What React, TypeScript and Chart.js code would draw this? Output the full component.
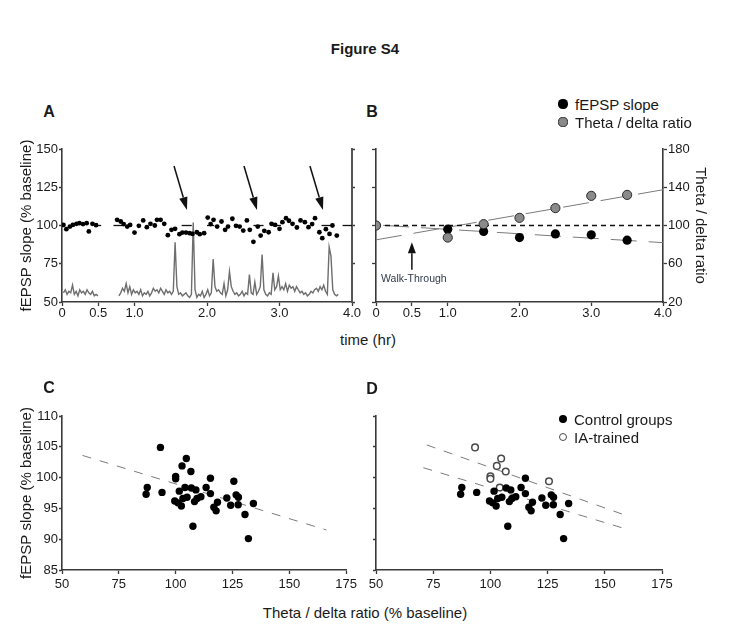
import React, { useEffect, useRef } from 'react';
import { Chart, registerables } from 'chart.js';

Chart.register(...registerables);

const FONT = '"Liberation Sans", Arial, Helvetica, sans-serif';
const AXIS = '#3a3a3a';
const TXT = '#1a1a1a';

// ---------- Panel A / B shared time axis ----------
const timeTicks = [0, 0.5, 1, 2, 3, 4];
const timeTickLabels = ['0', '0.5', '1.0', '2.0', '3.0', '4.0'];

// ---------- Panel A: fEPSP slope per time bin ----------
const fepspTimeA = [
  0.02, 0.06, 0.11, 0.15, 0.2, 0.24, 0.29, 0.34, 0.37, 0.42, 0.47,
  0.76, 0.81, 0.85, 0.9, 0.94, 1.0, 1.06, 1.12, 1.17, 1.22, 1.28, 1.31, 1.36, 1.41,
  1.46, 1.51, 1.56, 1.62, 1.66, 1.71, 1.76, 1.8, 1.86, 1.9, 1.96,
  2.01, 2.05, 2.09, 2.14, 2.2, 2.25, 2.29, 2.35, 2.4, 2.45, 2.5, 2.55, 2.59, 2.64,
  2.7, 2.74, 2.79, 2.85, 2.89, 2.94, 3.0, 3.04, 3.09, 3.13, 3.18, 3.24, 3.29, 3.35,
  3.4, 3.45, 3.49, 3.55, 3.59, 3.64, 3.69, 3.73, 3.79,
];
const fepspValA = [
  100.4, 97.6, 99.3, 100.4, 101.1, 101.5, 100.9, 101.5, 96.1, 101.1, 100.2,
  103.7, 102.6, 100.9, 99.3, 100.4, 95.4, 99.8, 103.3, 98.9, 101.1, 100.0, 103.7, 103.7, 101.1,
  93.7, 97.2, 97.8, 94.3, 95.4, 95.4, 95.0, 94.5, 95.6, 94.3, 95.0,
  105.2, 100.9, 103.7, 99.3, 102.6, 97.2, 99.3, 104.4, 99.8, 99.3, 96.7, 103.3, 97.2, 89.3,
  99.3, 93.4, 96.5, 95.6, 101.1, 100.4, 97.8, 102.2, 104.8, 103.1, 101.1, 98.7, 103.3, 102.2,
  98.9, 100.9, 104.8, 95.6, 91.7, 97.6, 94.5, 100.0, 93.4,
];

// ---------- Panel A: theta/delta trace (two recording segments) ----------
const thetaStepA = 0.025;
const thetaStart1A = 0.02;
const thetaVal1A = [56, 58, 55, 57, 56, 61, 55, 57, 54, 58, 56, 57, 55, 58, 56, 55, 57, 54, 55, 54];
const thetaStart2A = 0.785;
const thetaVal2A = [
  54, 56, 59, 57, 62, 56, 60, 55, 58, 56,
  57, 55, 58, 54, 56, 55, 57, 54, 56, 59, 57, 58, 56, 59, 57, 55, 58, 56, 57, 55,
  57, 89, 60,
  55, 56, 54, 55, 56, 54, 53, 55,
  102, 58,
  53, 55, 54, 57, 53, 55, 58, 54, 56,
  78, 60,
  57, 58, 56, 55, 62, 54, 58,
  70, 60,
  57, 55, 56, 54, 55, 57, 54, 56, 55,
  68, 56, 55, 63, 55, 57, 60, 81, 58,
  55, 54, 56, 55,
  69, 58, 60, 67, 58,
  60, 58, 62, 57, 61, 59, 60, 57, 60, 58, 56, 57, 55, 56, 54, 55, 57, 56, 58, 59, 57, 60,
  58, 61, 57, 55,
  86, 80, 58,
  55, 54, 55,
];
// visible pieces of the 100 % reference line in panel A (hr)
const refSegmentsA = [[0.48, 0.54], [0.71, 0.84], [1.65, 1.79], [2.0, 2.1], [2.64, 2.78], [2.9, 3.02], [3.58, 3.71], [3.87, 4.0]];
// arrows in panel A (time in hr, value in % baseline)
const arrowsA = [
  { t0: 1.545, v0: 138.9, t1: 1.724, v1: 110.1 },
  { t0: 2.51, v0: 138.9, t1: 2.69, v1: 110.1 },
  { t0: 3.42, v0: 138.9, t1: 3.6, v1: 110.1 },
];

// ---------- Panel B ----------
const timeB = [0, 1, 1.5, 2, 2.5, 3, 3.5];
const fepspB = [100, 97.6, 96.1, 92.1, 94.5, 93.9, 90.4];
const thetaB = [100, 87.4, 101.4, 108, 118.2, 131, 132];
const thetaTrendB = { x: [0, 4], y: [85, 137.4] };
const fepspTrendB = { x: [0.1, 4], y: [100.1, 88.8] };
const walkThrough = { t: 0.5, tail: 71, head: 89, textAt: 65, label: 'Walk-Through' };

// ---------- Panels C / D ----------
const controlX = [87.5, 87.0, 94.0, 101.6, 99.6, 101.0, 102.5, 103.2, 105.0, 106.9, 108.9, 107.6, 108.3, 109.4, 111.1, 113.4, 115.3, 115.3, 116.8, 117.8, 118.4, 122.5, 124.2, 126.6, 127.6, 127.5, 134.2, 130.5, 132.0];
const controlY = [98.4, 97.3, 97.6, 97.8, 96.2, 95.9, 95.4, 96.6, 96.8, 98.3, 98.0, 92.1, 96.1, 96.6, 96.9, 98.4, 99.9, 97.4, 95.2, 94.6, 96.0, 96.7, 95.5, 97.2, 96.8, 95.6, 95.8, 94.0, 90.1];
const iaX = [93.3, 104.7, 102.8, 106.7, 100.0, 100.0, 104.1, 125.6];
const iaY = [104.9, 103.1, 101.9, 101.0, 100.2, 99.8, 98.4, 99.4];
const trendC = { x: [59, 166.3], y: [103.6, 91.5] };
const trendDUpper = { x: [72.2, 158.2], y: [105.3, 94.0] };
const trendDLower = { x: [70.7, 158], y: [101.6, 91.8] };

// ---------- helpers ----------
const pts = (xs: number[], ys: number[]) => xs.map((x, i) => ({ x, y: ys[i] }));
const stepPts = (start: number, step: number, ys: number[]) => ys.map((y, i) => ({ x: +(start + i * step).toFixed(4), y }));

const tickFont = { family: FONT, size: 13 };
const titleFont = { family: FONT, size: 15 };

function grid(len: number) {
  return { drawOnChartArea: false, drawTicks: true, tickLength: len, color: AXIS, tickColor: AXIS, tickWidth: 1.3 };
}
const border = { display: true, color: AXIS, width: 1.6 };

function timeAxis() {
  return {
    type: 'linear',
    position: 'bottom',
    min: 0,
    max: 4,
    afterBuildTicks: (s: any) => { s.ticks = timeTicks.map((v) => ({ value: v })); },
    ticks: {
      font: tickFont, color: TXT, padding: 0, autoSkip: false, maxRotation: 0,
      callback: (v: number) => timeTickLabels[timeTicks.indexOf(v)],
    },
    grid: grid(4),
    border,
    afterFit: (s: any) => { s.height = 28; },
  };
}

function drawArrow(ctx: CanvasRenderingContext2D, x0: number, y0: number, x1: number, y1: number, headLen: number, headHalf: number, w: number) {
  const a = Math.atan2(y1 - y0, x1 - x0);
  const bx = x1 - headLen * Math.cos(a);
  const by = y1 - headLen * Math.sin(a);
  ctx.strokeStyle = '#111';
  ctx.fillStyle = '#111';
  ctx.lineWidth = w;
  ctx.beginPath();
  ctx.moveTo(x0, y0);
  ctx.lineTo(bx, by);
  ctx.stroke();
  ctx.beginPath();
  ctx.moveTo(x1, y1);
  ctx.lineTo(bx + headHalf * Math.sin(a), by - headHalf * Math.cos(a));
  ctx.lineTo(bx - headHalf * Math.sin(a), by + headHalf * Math.cos(a));
  ctx.closePath();
  ctx.fill();
}

const arrowsPluginA = {
  id: 'arrowsA',
  afterDatasetsDraw(chart: any) {
    const { ctx, scales } = chart;
    ctx.save();
    for (const a of arrowsA) {
      drawArrow(ctx, scales.x.getPixelForValue(a.t0), scales.y.getPixelForValue(a.v0), scales.x.getPixelForValue(a.t1), scales.y.getPixelForValue(a.v1), 13, 4.2, 1.5);
    }
    ctx.restore();
  },
};

const walkPluginB = {
  id: 'walkB',
  afterDatasetsDraw(chart: any) {
    const { ctx, scales } = chart;
    const x = scales.x.getPixelForValue(walkThrough.t);
    ctx.save();
    drawArrow(ctx, x, scales.y.getPixelForValue(walkThrough.tail), x, scales.y.getPixelForValue(walkThrough.head), 11, 4, 1.5);
    ctx.font = `10.5px ${FONT}`;
    ctx.fillStyle = '#2f3a4a';
    ctx.textAlign = 'center';
    ctx.textBaseline = 'middle';
    ctx.fillText(walkThrough.label, x + 2, scales.y.getPixelForValue(walkThrough.textAt));
    ctx.restore();
  },
};

const common = {
  responsive: false,
  animation: false,
  devicePixelRatio: 1,
  events: [],
};

function configA(): any {
  return {
    type: 'scatter',
    data: {
      datasets: [
        { type: 'scatter', data: pts(fepspTimeA, fepspValA), pointRadius: 2.4, backgroundColor: '#000', borderWidth: 0, order: 0 },
        ...refSegmentsA.map(([a, b]) => ({ type: 'line', data: [{ x: a, y: 100 }, { x: b, y: 100 }], borderColor: '#111', borderWidth: 1.3, pointRadius: 0, order: 1 })),
        { type: 'line', data: stepPts(thetaStart1A, thetaStepA, thetaVal1A), borderColor: '#6e6e6e', borderWidth: 1.4, pointRadius: 0, tension: 0, order: 2 },
        { type: 'line', data: stepPts(thetaStart2A, thetaStepA, thetaVal2A), borderColor: '#6e6e6e', borderWidth: 1.4, pointRadius: 0, tension: 0, order: 2 },
      ],
    },
    options: {
      ...common,
      layout: { padding: { top: 19, left: 0, right: 0, bottom: 0 } },
      plugins: { legend: { display: false }, tooltip: { enabled: false } },
      scales: {
        x: timeAxis(),
        y: {
          type: 'linear', position: 'left', min: 50, max: 150,
          ticks: { stepSize: 25, font: tickFont, color: TXT, padding: 1 },
          grid: grid(3), border,
          title: { display: true, text: 'fEPSP slope (% baseline)', font: titleFont, color: TXT, padding: { top: 18, bottom: 0 } },
          afterFit: (s: any) => { s.width = 62; },
        },
        y2: {
          type: 'linear', position: 'right', min: 50, max: 150,
          ticks: { stepSize: 25, display: false },
          grid: grid(3), border: { ...border, color: '#555', width: 2 },
          afterFit: (s: any) => { s.width = 13; },
        },
      },
    },
    plugins: [arrowsPluginA],
  };
}

function configB(): any {
  const trendStyle = { borderColor: '#7a7a7a', borderWidth: 1, borderDash: [26, 12], pointRadius: 0 };
  return {
    type: 'scatter',
    data: {
      datasets: [
        { type: 'scatter', label: 'Theta / delta ratio', data: pts(timeB, thetaB), yAxisID: 'y2', pointRadius: 4.6, backgroundColor: '#8a8a8a', borderColor: '#2a2a2a', borderWidth: 1, order: 0 },
        { type: 'scatter', label: 'fEPSP slope', data: pts(timeB, fepspB), yAxisID: 'y', pointRadius: 4.6, backgroundColor: '#000', borderWidth: 0, order: 1 },
        { type: 'line', data: [{ x: 0, y: 100 }, { x: 4, y: 100 }], yAxisID: 'y', borderColor: '#111', borderWidth: 1.5, borderDash: [5, 4], pointRadius: 0, order: 2 },
        { type: 'line', data: pts(thetaTrendB.x, thetaTrendB.y), yAxisID: 'y2', ...trendStyle, order: 3 },
        { type: 'line', data: pts(fepspTrendB.x, fepspTrendB.y), yAxisID: 'y', ...trendStyle, order: 3 },
      ],
    },
    options: {
      ...common,
      layout: { padding: { top: 19, left: 0, right: 0, bottom: 0 } },
      plugins: { legend: { display: false }, tooltip: { enabled: false } },
      scales: {
        x: timeAxis(),
        y: {
          type: 'linear', position: 'left', min: 50, max: 150,
          ticks: { stepSize: 25, display: false },
          grid: grid(4), border,
          afterFit: (s: any) => { s.width = 11; },
        },
        y2: {
          type: 'linear', position: 'right', min: 20, max: 180,
          ticks: { stepSize: 40, font: tickFont, color: TXT, padding: 1 },
          grid: grid(4), border,
          title: { display: true, text: 'Theta / delta ratio', font: titleFont, color: TXT, padding: { top: 4, bottom: 0 } },
          afterFit: (s: any) => { s.width = 50; },
        },
      },
    },
    plugins: [walkPluginB],
  };
}

function scatterAxes(showY: boolean, yWidth: number): any {
  return {
    x: {
      type: 'linear', position: 'bottom', min: 50, max: 175,
      ticks: { stepSize: 25, font: tickFont, color: TXT, padding: 3, maxRotation: 0 },
      grid: grid(4), border,
      afterFit: (s: any) => { s.height = 25; },
    },
    y: {
      type: 'linear', position: 'left', min: 85, max: 110,
      ticks: { stepSize: 5, font: tickFont, color: TXT, padding: 1, display: showY },
      grid: grid(3), border,
      title: { display: showY, text: 'fEPSP slope (% baseline)', font: titleFont, color: TXT, padding: { top: 18, bottom: 0 } },
      afterFit: (s: any) => { s.width = yWidth; },
    },
  };
}

const regStyle = { type: 'line', borderColor: '#7a7a7a', borderWidth: 1, borderDash: [9, 9], pointRadius: 0 };

function configC(): any {
  return {
    type: 'scatter',
    data: {
      datasets: [
        { type: 'scatter', data: pts(controlX, controlY), pointRadius: 3.7, backgroundColor: '#000', borderWidth: 0, order: 0 },
        { type: 'scatter', data: pts(iaX, iaY), pointRadius: 3.7, backgroundColor: '#000', borderWidth: 0, order: 0 },
        { ...regStyle, data: pts(trendC.x, trendC.y), order: 1 },
      ],
    },
    options: {
      ...common,
      layout: { padding: { top: 21, left: 0, right: 11, bottom: 0 } },
      plugins: { legend: { display: false }, tooltip: { enabled: false } },
      scales: scatterAxes(true, 62),
    },
  };
}

function configD(): any {
  return {
    type: 'scatter',
    data: {
      datasets: [
        { type: 'scatter', label: 'Control groups', data: pts(controlX, controlY), pointRadius: 3.7, backgroundColor: '#000', borderWidth: 0, order: 0 },
        { type: 'scatter', label: 'IA-trained', data: pts(iaX, iaY), pointRadius: 3.3, backgroundColor: '#fff', borderColor: '#4a4a4a', borderWidth: 1.5, order: 0 },
        { ...regStyle, data: pts(trendDUpper.x, trendDUpper.y), order: 1 },
        { ...regStyle, data: pts(trendDLower.x, trendDLower.y), order: 1 },
      ],
    },
    options: {
      ...common,
      layout: { padding: { top: 21, left: 0, right: 72, bottom: 0 } },
      plugins: { legend: { display: false }, tooltip: { enabled: false } },
      scales: scatterAxes(false, 11),
    },
  };
}

function ChartBox({ left, top, width, height, make }: { left: number; top: number; width: number; height: number; make: () => any }) {
  const ref = useRef<HTMLCanvasElement>(null);
  useEffect(() => {
    const chart = new Chart(ref.current as HTMLCanvasElement, make());
    return () => chart.destroy();
  }, []);
  return <canvas ref={ref} width={width} height={height} style={{ position: 'absolute', left, top, width, height }} />;
}

function Txt({ x, y, children, size = 15, bold = false, align = 'center' }: any) {
  return (
    <div
      style={{
        position: 'absolute', left: x, top: y,
        transform: align === 'center' ? 'translate(-50%, -50%)' : 'translate(0, -50%)',
        font: `${bold ? 'bold ' : ''}${size}px ${FONT}`, color: TXT, whiteSpace: 'nowrap', lineHeight: 1,
      }}
    >
      {children}
    </div>
  );
}

function Dot({ x, y, fill, stroke, r = 4.6, sw = 1 }: any) {
  return (
    <div
      style={{
        position: 'absolute', left: x - r, top: y - r, width: 2 * r, height: 2 * r, borderRadius: '50%',
        background: fill, boxSizing: 'border-box', border: stroke ? `${sw}px solid ${stroke}` : 'none',
      }}
    />
  );
}

export default function App() {
  return (
    <div style={{ position: 'absolute', left: 0, top: 0, width: 734, height: 642, background: '#fff', overflow: 'hidden' }}>
      <ChartBox left={0} top={130} width={365} height={200} make={configA} />
      <ChartBox left={365} top={130} width={348} height={200} make={configB} />
      <ChartBox left={0} top={395} width={360} height={200} make={configC} />
      <ChartBox left={365} top={395} width={369} height={200} make={configD} />

      <Txt x={365} y={48} size={15} bold>Figure S4</Txt>
      <Txt x={49} y={112} size={16} bold>A</Txt>
      <Txt x={372} y={112} size={16} bold>B</Txt>
      <Txt x={49} y={388} size={16} bold>C</Txt>
      <Txt x={372} y={389} size={16} bold>D</Txt>

      <Dot x={563} y={104} fill="#000" />
      <Txt x={575} y={104} align="left">fEPSP slope</Txt>
      <Dot x={563} y={122} fill="#8a8a8a" stroke="#2a2a2a" />
      <Txt x={575} y={122} align="left">Theta / delta ratio</Txt>

      <Txt x={368} y={339}>time (hr)</Txt>

      <Dot x={563} y={419} fill="#000" r={4.3} />
      <Txt x={574} y={419} align="left">Control groups</Txt>
      <Dot x={563} y={437} fill="#fff" stroke="#4a4a4a" r={4} sw={1.5} />
      <Txt x={574} y={437} align="left">IA-trained</Txt>

      <Txt x={365} y={612}>Theta / delta ratio (% baseline)</Txt>
    </div>
  );
}
